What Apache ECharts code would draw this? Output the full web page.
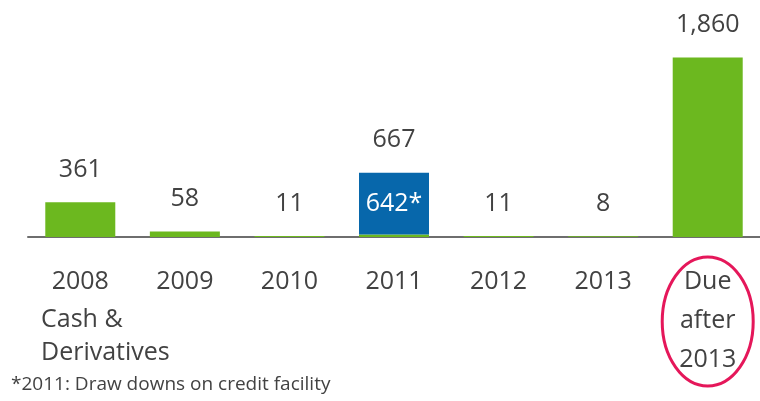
<!DOCTYPE html>
<html>
<head>
<meta charset="utf-8">
<script src="https://cdn.jsdelivr.net/npm/echarts@6/dist/echarts.min.js"></script>
<style>
  html, body { margin: 0; padding: 0; background: #ffffff; }
  #chart { width: 760px; height: 401px; }
</style>
</head>
<body>
<div id="chart"></div>
<script>
// Debt maturity profile (in millions)
const categories = ['2008', '2009', '2010', '2011', '2012', '2013', 'Due\nafter\n2013'];
const totals = [361, 58, 11, 667, 11, 8, 1860];
const drawdowns = [0, 0, 0, 642, 0, 0, 0];
const cashNote = 'Cash &\nDerivatives';
const footnote = '*2011: Draw downs on credit facility';

const FONT = '"Open Sans", "Noto Sans", sans-serif';
const TEXT = '#424242';
const GREEN = '#6cb81f';
const BLUE = '#0767ab';

// scheduled maturities = total minus credit-facility draw downs
const scheduled = totals.map((t, i) => t - drawdowns[i]);
const drawn = drawdowns.map(v => (v > 0 ? v : null));

const chart = echarts.init(document.getElementById('chart'));

chart.setOption({
  animation: false,
  grid: { left: 28, right: 0, top: 44, bottom: 164 },
  xAxis: {
    type: 'category',
    data: categories,
    axisLine: { lineStyle: { color: '#6e6e6e', width: 2 } },
    axisTick: { length: 8, lineStyle: { color: '#6e6e6e', width: 2 } },
    axisLabel: {
      interval: 0,
      margin: 25,
      fontSize: 25,
      lineHeight: 39,
      color: TEXT,
      fontFamily: FONT
    }
  },
  yAxis: {
    type: 'value',
    min: 0,
    max: 2000,
    show: false
  },
  series: [
    {
      name: 'Scheduled',
      type: 'bar',
      stack: 'debt',
      barWidth: 70,
      data: scheduled,
      itemStyle: { color: GREEN }
    },
    {
      name: 'Draw downs',
      type: 'bar',
      stack: 'debt',
      barWidth: 70,
      data: drawn,
      itemStyle: { color: BLUE },
      label: {
        show: true,
        position: 'inside',
        color: '#ffffff',
        fontSize: 25,
        fontFamily: FONT,
        formatter: p => p.value + '*'
      }
    },
    {
      // totals written above each stack
      name: 'Total',
      type: 'scatter',
      data: totals,
      symbolSize: 0,
      itemStyle: { color: TEXT, opacity: 1 },
      z: 5,
      label: {
        show: true,
        position: 'top',
        distance: 20,
        color: TEXT,
        opacity: 1,
        fontSize: 25,
        fontFamily: FONT,
        formatter: p => p.value.toLocaleString('en-US')
      }
    }
  ]
});

// annotations: sub-caption, footnote and the highlight round the last category
const lastX = chart.convertToPixel({ xAxisIndex: 0 }, categories[categories.length - 1]);

chart.setOption({
  graphic: [
    {
      type: 'text',
      style: {
        x: 41,
        y: 336.5,
        text: cashNote,
        fontSize: 25,
        lineHeight: 33,
        fontFamily: FONT,
        fill: TEXT,
        textAlign: 'left',
        textVerticalAlign: 'middle'
      }
    },
    {
      type: 'text',
      style: {
        x: 11,
        y: 385,
        text: footnote,
        fontSize: 19,
        fontFamily: FONT,
        fill: TEXT,
        textAlign: 'left',
        textVerticalAlign: 'middle'
      }
    },
    {
      type: 'ellipse',
      shape: { cx: lastX, cy: 321.5, rx: 45.5, ry: 64.5 },
      style: { fill: 'transparent', stroke: '#e5175a', lineWidth: 3 }
    }
  ]
});
</script>
</body>
</html>
